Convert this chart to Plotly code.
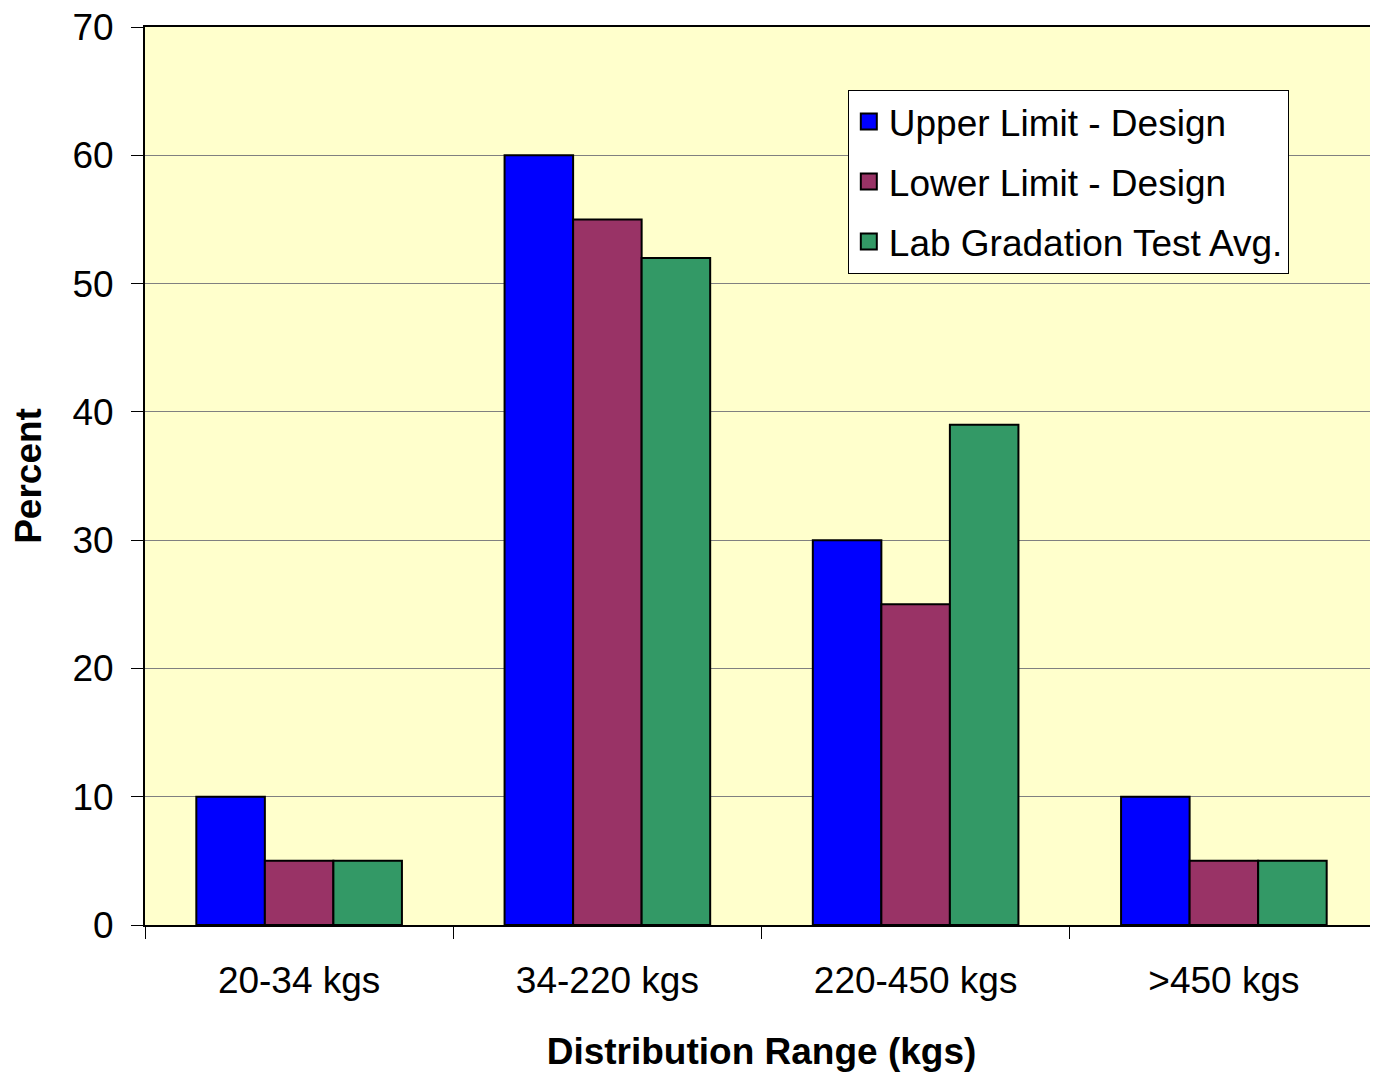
import plotly.graph_objects as go

categories = ["20-34 kgs", "34-220 kgs", "220-450 kgs", ">450 kgs"]
upper_limit = [10, 60, 30, 10]
lower_limit = [5, 55, 25, 5]
lab_avg = [5, 52, 39, 5]
series_names = ["Upper Limit - Design", "Lower Limit - Design", "Lab Gradation Test Avg."]
colors = ["#0000FF", "#993366", "#339966"]

fig = go.Figure()
for name, vals, c in zip(series_names, [upper_limit, lower_limit, lab_avg], colors):
    fig.add_trace(go.Bar(x=categories, y=vals, name=name, showlegend=False,
                         marker=dict(color=c, line=dict(color="black", width=2))))
# legend entries with larger square symbols
for i, (name, c) in enumerate(zip(series_names, colors)):
    fig.add_trace(go.Scatter(x=[None], y=[None], mode="markers", name=name,
                             legendgroup=f"g{i}",
                             marker=dict(symbol="square", size=16, color=c,
                                         line=dict(color="black", width=2))))

font = "Liberation Sans, Arial, sans-serif"
fig.update_layout(
    width=1370, height=1068,
    margin=dict(l=137, r=0, t=19, b=151, autoexpand=False),
    paper_bgcolor="white", plot_bgcolor="#FFFFCC",
    barmode="group", bargap=0.333, bargroupgap=0,
    font=dict(family=font, size=37, color="black"),
    showlegend=True,
    legend=dict(x=0.570, y=0.93, xanchor="left", yanchor="top",
                bgcolor="white", bordercolor="black", borderwidth=1,
                font=dict(size=37, family=font), tracegroupgap=9,
                traceorder="grouped", itemwidth=30),
    xaxis=dict(title=dict(text="<b>Distribution Range (kgs)</b>", font=dict(size=37), standoff=38),
               tickson="boundaries", ticks="outside", ticklen=12, tickcolor="black",
               showline=True, linecolor="black", linewidth=2, mirror=True,
               tickfont=dict(size=37), ticklabelstandoff=22, automargin=False),
    yaxis=dict(title=dict(text="<b>Percent</b>", font=dict(size=37), standoff=20),
               range=[0, 70], dtick=10, ticks="outside", ticklen=12, tickcolor="black",
               showline=True, linecolor="black", linewidth=2, mirror=True,
               showgrid=True, gridcolor="#808080", gridwidth=1,
               tickfont=dict(size=37), zeroline=False, ticklabelstandoff=10,
               ticklabeloverflow="allow", automargin=False),
)
fig.write_html("out.html")
